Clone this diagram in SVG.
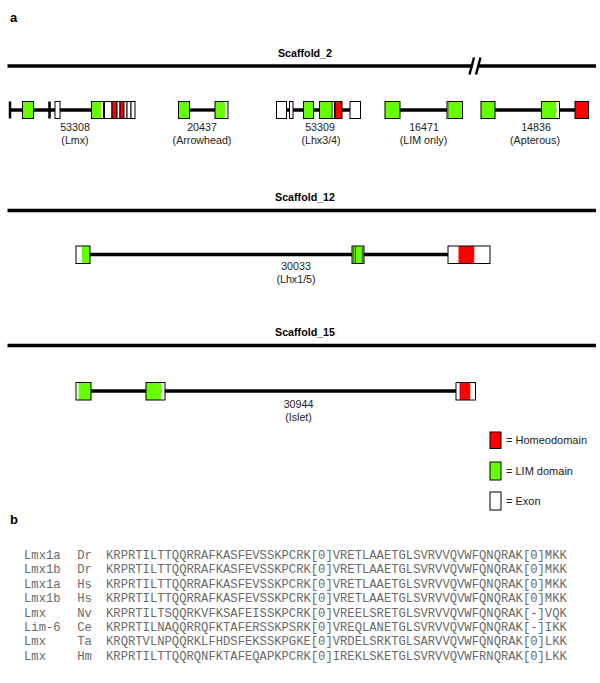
<svg xmlns="http://www.w3.org/2000/svg" width="600" height="683" viewBox="0 0 600 683">
<style>
.bg{fill:#fff}
.ex{stroke:#000;stroke-width:1}
.ol{fill:none;stroke:#000;stroke-width:1}
.g{fill:#66ff00}
.r{fill:#ff0000}
.w{fill:#fff}
.in{stroke:#000;stroke-width:3.3}
.tk{stroke:#000;stroke-width:2.5}
.sc{stroke:#000;stroke-width:3.5}
.lbl{font-family:"Liberation Sans",Arial,sans-serif;font-size:10.7px;text-anchor:middle;fill:#222}
.ttl{font-family:"Liberation Sans",Arial,sans-serif;font-size:10.7px;font-weight:bold;text-anchor:middle;fill:#000}
.pl{font-family:"Liberation Sans",Arial,sans-serif;font-size:13px;font-weight:bold;fill:#000}
.leg{font-family:"Liberation Sans",Arial,sans-serif;font-size:11px;fill:#222}
.seq{font-family:"Liberation Mono","Courier New",monospace;font-size:12.2px;fill:#6a6a6a}
</style>
<rect class="bg" x="0" y="0" width="600" height="683"/>
<text class="pl" x="10" y="22">a</text>
<text class="pl" x="10" y="524">b</text>

<g id="connectors">
  <line class="in" x1="10" y1="110" x2="104" y2="110"/>
  <line class="in" x1="189" y1="110" x2="215" y2="110"/>
  <line class="in" x1="286" y1="110" x2="350" y2="110"/>
  <line class="in" x1="400" y1="110" x2="447" y2="110"/>
  <line class="in" x1="495" y1="110" x2="575" y2="110"/>
  <line class="in" x1="90" y1="254.5" x2="448" y2="254.5"/>
  <line class="in" x1="91" y1="391" x2="456" y2="391"/>
</g>

<g id="scaffold_2">
  <line class="sc" x1="7.5" y1="66" x2="596" y2="66"/>
  <polygon points="471,74 475,58 480,58 476,74" fill="#fff"/>
  <line x1="469.5" y1="74.5" x2="474" y2="57.5" stroke="#000" stroke-width="2.4"/>
  <line x1="476" y1="74.5" x2="480.5" y2="57.5" stroke="#000" stroke-width="2.4"/>
  <text class="ttl" x="305" y="57">Scaffold_2</text>
</g>

<g id="gene_53308">
  <line class="tk" x1="10" y1="101.5" x2="10" y2="118.5"/>
  <line class="tk" x1="49.5" y1="101.5" x2="49.5" y2="118.5"/>
  <rect class="g ex" x="22.5" y="101.5" width="11" height="17"/>
  <rect class="w ex" x="55" y="101.5" width="5" height="17"/>
  <rect class="g" x="91.5" y="101.5" width="9.5" height="17"/>
  <rect class="w" x="101" y="101.5" width="2.5" height="17"/>
  <rect class="ol" x="91.5" y="101.5" width="12" height="17"/>
  <rect class="w ex" x="104.5" y="101.5" width="7.5" height="17"/>
  <rect class="r ex" x="112" y="101.5" width="5" height="17"/>
  <rect class="w ex" x="117" y="101.5" width="3" height="17"/>
  <rect class="r ex" x="120" y="101.5" width="4" height="17"/>
  <rect class="w ex" x="124" y="101.5" width="3" height="17"/>
  <rect class="w ex" x="127" y="101.5" width="4" height="17"/>
  <rect class="w ex" x="131" y="101.5" width="4" height="17"/>
  <text class="lbl" x="75" y="131">53308</text>
  <text class="lbl" x="75" y="143.5">(Lmx)</text>
</g>

<g id="gene_20437">
  <rect class="g ex" x="178.5" y="101.5" width="11" height="17"/>
  <rect class="g" x="215" y="101.5" width="10" height="17"/>
  <rect class="w" x="225" y="101.5" width="3" height="17"/>
  <rect class="ol" x="215" y="101.5" width="13" height="17"/>
  <text class="lbl" x="202" y="131">20437</text>
  <text class="lbl" x="202" y="143.5">(Arrowhead)</text>
</g>

<g id="gene_53309">
  <rect class="w ex" x="276.5" y="101.5" width="10" height="17"/>
  <rect class="w ex" x="289.5" y="101.5" width="3.5" height="17"/>
  <rect class="g ex" x="303.5" y="101.5" width="10" height="17"/>
  <rect class="g" x="319.5" y="101.5" width="11.5" height="17"/>
  <rect class="w" x="331" y="101.5" width="3.5" height="17"/>
  <line x1="332" y1="101.5" x2="332" y2="118.5" stroke="#555" stroke-width="1.5"/>
  <rect class="ol" x="319.5" y="101.5" width="15" height="17"/>
  <rect class="r ex" x="335" y="101.5" width="7" height="17"/>
  <rect class="w ex" x="350" y="101.5" width="10.5" height="17"/>
  <text class="lbl" x="320" y="131">53309</text>
  <text class="lbl" x="321" y="143.5">(Lhx3/4)</text>
</g>

<g id="gene_16471">
  <rect class="g ex" x="385" y="101.5" width="15" height="17"/>
  <rect class="g ex" x="447" y="101.5" width="15.5" height="17"/>
  <line x1="448" y1="101.5" x2="448" y2="118.5" stroke="#666" stroke-width="1.2"/>
  <text class="lbl" x="424" y="131">16471</text>
  <text class="lbl" x="423.5" y="143.5">(LIM only)</text>
</g>

<g id="gene_14836">
  <rect class="g ex" x="481" y="101.5" width="14" height="17"/>
  <rect class="g" x="541.5" y="101.5" width="15" height="17"/>
  <rect class="w" x="556.5" y="101.5" width="3" height="17"/>
  <rect class="ol" x="541.5" y="101.5" width="18" height="17"/>
  <rect class="r ex" x="575" y="101.5" width="13.5" height="17"/>
  <text class="lbl" x="536" y="131">14836</text>
  <text class="lbl" x="535" y="143.5">(Apterous)</text>
</g>

<g id="scaffold_12">
  <line class="sc" x1="7.5" y1="210.5" x2="596" y2="210.5"/>
  <text class="ttl" x="305" y="201">Scaffold_12</text>
</g>

<g id="gene_30033">
  <rect class="w" x="76" y="246" width="6" height="17.5"/>
  <rect class="g" x="82" y="246" width="8" height="17.5"/>
  <rect class="ol" x="76" y="246" width="14" height="17.5"/>
  <rect class="g ex" x="352" y="246" width="12" height="17.5"/>
  <line x1="353.5" y1="246" x2="353.5" y2="263.5" stroke="#666" stroke-width="1.5"/>
  <line x1="355.5" y1="246" x2="355.5" y2="263.5" stroke="#333" stroke-width="0.8"/>
  <line x1="362.5" y1="246" x2="362.5" y2="263.5" stroke="#666" stroke-width="1.5"/>
  <rect class="w" x="448" y="246" width="10.5" height="17.5"/>
  <rect class="r" x="458.5" y="246" width="16" height="17.5"/>
  <rect class="w" x="474.5" y="246" width="15.5" height="17.5"/>
  <rect class="ol" x="448" y="246" width="42" height="17.5"/>
  <text class="lbl" x="296" y="270">30033</text>
  <text class="lbl" x="296" y="282.5">(Lhx1/5)</text>
</g>

<g id="scaffold_15">
  <line class="sc" x1="7.5" y1="345.5" x2="596" y2="345.5"/>
  <text class="ttl" x="305" y="336">Scaffold_15</text>
</g>

<g id="gene_30944">
  <rect class="w" x="76" y="382.5" width="2.5" height="17.5"/>
  <rect class="g" x="78.5" y="382.5" width="12.5" height="17.5"/>
  <rect class="ol" x="76" y="382.5" width="15" height="17.5"/>
  <rect class="g" x="146" y="382.5" width="15.5" height="17.5"/>
  <rect class="w" x="161.5" y="382.5" width="3.5" height="17.5"/>
  <rect class="ol" x="146" y="382.5" width="19" height="17.5"/>
  <rect class="w" x="456" y="382.5" width="3.5" height="17.5"/>
  <rect class="r" x="459.5" y="382.5" width="11" height="17.5"/>
  <rect class="w" x="470.5" y="382.5" width="5" height="17.5"/>
  <rect class="ol" x="456" y="382.5" width="19.5" height="17.5"/>
  <text class="lbl" x="298.5" y="408">30944</text>
  <text class="lbl" x="298.5" y="420.5">(Islet)</text>
</g>

<g id="legend">
  <rect class="r ex" x="490" y="432" width="11" height="16.5"/>
  <text class="leg" x="506" y="444">= Homeodomain</text>
  <rect class="g ex" x="490" y="462" width="11" height="18"/>
  <text class="leg" x="506" y="474.5">= LIM domain</text>
  <rect class="w ex" x="490" y="492" width="11" height="18"/>
  <text class="leg" x="506" y="504.5">= Exon</text>
</g>

<g id="alignment">
  <text class="seq" x="24" y="559">Lmx1a</text><text class="seq" x="77.3" y="559">Dr</text><text class="seq" x="106" y="559">KRPRTILTTQQRRAFKASFEVSSKPCRK[0]VRETLAAETGLSVRVVQVWFQNQRAK[0]MKK</text>
  <text class="seq" x="24" y="573.4">Lmx1b</text><text class="seq" x="77.3" y="573.4">Dr</text><text class="seq" x="106" y="573.4">KRPRTILTTQQRRAFKASFEVSSKPCRK[0]VRETLAAETGLSVRVVQVWFQNQRAK[0]MKK</text>
  <text class="seq" x="24" y="587.8">Lmx1a</text><text class="seq" x="77.3" y="587.8">Hs</text><text class="seq" x="106" y="587.8">KRPRTILTTQQRRAFKASFEVSSKPCRK[0]VRETLAAETGLSVRVVQVWFQNQRAK[0]MKK</text>
  <text class="seq" x="24" y="602.2">Lmx1b</text><text class="seq" x="77.3" y="602.2">Hs</text><text class="seq" x="106" y="602.2">KRPRTILTTQQRRAFKASFEVSSKPCRK[0]VRETLAAETGLSVRVVQVWFQNQRAK[0]MKK</text>
  <text class="seq" x="24" y="616.6">Lmx</text><text class="seq" x="77.3" y="616.6">Nv</text><text class="seq" x="106" y="616.6">KRPRTILTSQQRKVFKSAFEISSKPCRK[0]VREELSRETGLSVRVVQVWFQNQRAK[-]VQK</text>
  <text class="seq" x="24" y="631">Lim-6</text><text class="seq" x="77.3" y="631">Ce</text><text class="seq" x="106" y="631">KRPRTILNAQQRRQFKTAFERSSKPSRK[0]VREQLANETGLSVRVVQVWFQNQRAK[-]IKK</text>
  <text class="seq" x="24" y="645.4">Lmx</text><text class="seq" x="77.3" y="645.4">Ta</text><text class="seq" x="106" y="645.4">KRQRTVLNPQQRKLFHDSFEKSSKPGKE[0]VRDELSRKTGLSARVVQVWFQNQRAK[0]LKK</text>
  <text class="seq" x="24" y="659.8">Lmx</text><text class="seq" x="77.3" y="659.8">Hm</text><text class="seq" x="106" y="659.8">KRPRTILTTQQRQNFKTAFEQAPKPCRK[0]IREKLSKETGLSVRVVQVWFRNQRAK[0]LKK</text>
</g>
</svg>
